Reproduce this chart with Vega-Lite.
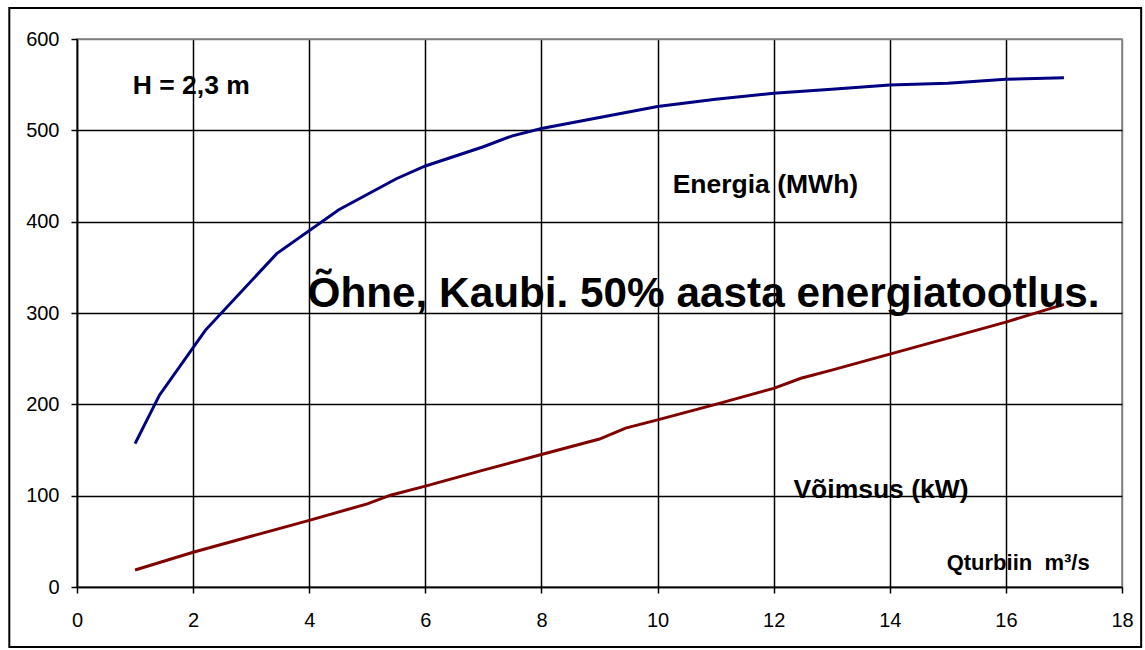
{
  "$schema": "https://vega.github.io/schema/vega-lite/v6.json",
  "width": 1045,
  "height": 548,
  "autosize": {"type": "none"},
  "padding": {"left": 77, "top": 39, "right": 23, "bottom": 63},
  "background": "white",
  "config": {
    "view": {"stroke": "#808080", "strokeWidth": 1.5},
    "axis": {
      "grid": true,
      "domainColor": "black",
      "domainWidth": 1.5,
      "tickColor": "black",
      "tickSize": 6,
      "tickWidth": 1.5,
      "gridOpacity": 1,
      "gridWidth": 1.5,
      "labelFont": "Liberation Sans",
      "labelFontSize": 20,
      "labelColor": "black",
      "labelFlush": false,
      "title": null
    }
  },
  "layer": [
    {
      "data": {
        "values": [
          {"q": 1, "v": 157, "s": "Energia"},
          {"q": 1.42, "v": 210, "s": "Energia"},
          {"q": 2.21, "v": 281, "s": "Energia"},
          {"q": 3.44, "v": 365, "s": "Energia"},
          {"q": 4.51, "v": 413, "s": "Energia"},
          {"q": 5.5, "v": 447, "s": "Energia"},
          {"q": 6, "v": 461, "s": "Energia"},
          {"q": 7, "v": 482, "s": "Energia"},
          {"q": 7.5, "v": 494, "s": "Energia"},
          {"q": 8, "v": 502, "s": "Energia"},
          {"q": 9, "v": 514, "s": "Energia"},
          {"q": 10, "v": 526, "s": "Energia"},
          {"q": 11, "v": 534, "s": "Energia"},
          {"q": 12, "v": 540.6, "s": "Energia"},
          {"q": 13, "v": 545, "s": "Energia"},
          {"q": 14, "v": 549.7, "s": "Energia"},
          {"q": 15, "v": 551.5, "s": "Energia"},
          {"q": 16, "v": 556, "s": "Energia"},
          {"q": 17, "v": 557.5, "s": "Energia"},
          {"q": 1, "v": 18.6, "s": "Võimsus"},
          {"q": 2, "v": 38, "s": "Võimsus"},
          {"q": 3, "v": 55.5, "s": "Võimsus"},
          {"q": 4, "v": 73, "s": "Võimsus"},
          {"q": 5, "v": 91, "s": "Võimsus"},
          {"q": 5.4, "v": 100.5, "s": "Võimsus"},
          {"q": 6, "v": 110.5, "s": "Võimsus"},
          {"q": 7, "v": 128, "s": "Võimsus"},
          {"q": 8, "v": 145, "s": "Võimsus"},
          {"q": 9, "v": 162, "s": "Võimsus"},
          {"q": 9.45, "v": 174, "s": "Võimsus"},
          {"q": 10, "v": 183, "s": "Võimsus"},
          {"q": 11, "v": 200, "s": "Võimsus"},
          {"q": 12, "v": 217.5, "s": "Võimsus"},
          {"q": 12.47, "v": 228.5, "s": "Võimsus"},
          {"q": 13, "v": 237.5, "s": "Võimsus"},
          {"q": 14, "v": 255, "s": "Võimsus"},
          {"q": 15, "v": 272.5, "s": "Võimsus"},
          {"q": 16, "v": 290, "s": "Võimsus"},
          {"q": 17, "v": 309.5, "s": "Võimsus"}
        ]
      },
      "mark": {"type": "line", "strokeWidth": 3},
      "encoding": {
        "x": {
          "field": "q", "type": "quantitative",
          "scale": {"domain": [0, 18], "nice": false, "zero": false},
          "axis": {
            "grid": true,
            "values": [0, 2, 4, 6, 8, 10, 12, 14, 16, 18],
            "format": "d",
            "labelPadding": 17,
            "gridColor": {"condition": {"test": "datum.value === 18", "value": "#808080"}, "value": "black"}
          }
        },
        "y": {
          "field": "v", "type": "quantitative",
          "scale": {"domain": [0, 600], "nice": false, "zero": false},
          "axis": {
            "grid": true,
            "values": [0, 100, 200, 300, 400, 500, 600],
            "format": "d",
            "labelPadding": 12,
            "gridColor": {"condition": {"test": "datum.value === 600", "value": "#808080"}, "value": "black"}
          }
        },
        "color": {
          "field": "s", "type": "nominal",
          "scale": {"domain": ["Energia", "Võimsus"], "range": ["#000080", "#800000"]},
          "legend": null
        },
        "order": {"field": "q", "type": "quantitative"}
      }
    },
    {
      "data": {"values": [{"a": 1}]},
      "mark": {"type": "rect", "fill": null, "stroke": "black", "strokeWidth": 2, "clip": false},
      "encoding": {
        "x": {"datum": -1.166, "type": "quantitative"},
        "x2": {"datum": 18.33},
        "y": {"datum": 634, "type": "quantitative"},
        "y2": {"datum": -65.7}
      }
    },
    {
      "data": {
        "values": [
          {"x": 0.96, "y": 540, "t": "H = 2,3 m"},
          {"x": 10.26, "y": 431, "t": "Energia (MWh)"},
          {"x": 12.34, "y": 97.4, "t": "Võimsus (kW)"}
        ]
      },
      "mark": {"type": "text", "font": "Liberation Sans", "fontWeight": "bold", "fontSize": 26.5, "align": "left", "baseline": "alphabetic", "color": "black"},
      "encoding": {
        "x": {"field": "x", "type": "quantitative"},
        "y": {"field": "y", "type": "quantitative"},
        "text": {"field": "t"}
      }
    },
    {
      "data": {"values": [{"x": 14.98, "y": 18.6, "t": "Qturbiin\u00a0\u00a0m³/s"}]},
      "mark": {"type": "text", "font": "Liberation Sans", "fontWeight": "bold", "fontSize": 22, "align": "left", "baseline": "alphabetic", "color": "black"},
      "encoding": {
        "x": {"field": "x", "type": "quantitative"},
        "y": {"field": "y", "type": "quantitative"},
        "text": {"field": "t"}
      }
    },
    {
      "data": {"values": [{"x": 3.97, "y": 307, "t": "Õhne, Kaubi. 50% aasta energiatootlus."}]},
      "mark": {"type": "text", "font": "Liberation Sans", "fontWeight": "bold", "fontSize": 42.3, "align": "left", "baseline": "alphabetic", "color": "black"},
      "encoding": {
        "x": {"field": "x", "type": "quantitative"},
        "y": {"field": "y", "type": "quantitative"},
        "text": {"field": "t"}
      }
    }
  ]
}
